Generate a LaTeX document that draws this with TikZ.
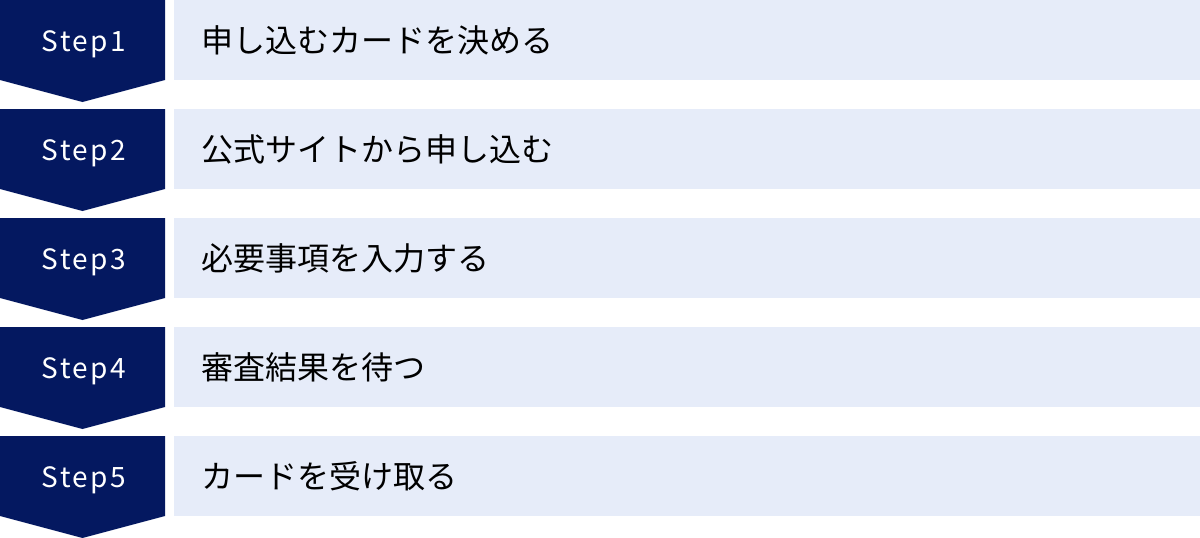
\documentclass[tikz,border=0pt]{standalone}
\usepackage{fontspec}
\newfontfamily\cjk{Noto Sans CJK JP}
\newfontfamily\steplat[LetterSpace=9]{Noto Sans CJK JP}
\usetikzlibrary{positioning}
\definecolor{stepnavy}{RGB}{4,24,96}
\definecolor{steplight}{RGB}{230,236,249}

\begin{document}
\begin{tikzpicture}[x=1pt,y=-1pt,
	steptag/.style={text=white,font=\steplat\fontsize{28}{32}\selectfont,anchor=base,inner sep=0pt},
	steptext/.style={text=black,font=\cjk\fontsize{32}{36}\selectfont,anchor=base west,inner sep=0pt}]
		%%%%% START %%%%%
		\useasboundingbox (0,0) rectangle (1200,538);
		\foreach \i/\txt in {1/申し込むカードを決める,2/公式サイトから申し込む,3/必要事項を入力する,4/審査結果を待つ,5/カードを受け取る}{
			\pgfmathsetmacro{\top}{(\i-1)*109}
			\fill[stepnavy] (0,\top) -- (165,\top) -- (165,\top+80) -- (82.5,\top+102) -- (0,\top+80) -- cycle;
			\fill[steplight] (174,\top) rectangle (1200,\top+80);
			\node[steptag] (tag\i) at (84,\top+51) {Step\i};
			\node[steptext] (text\i) at (201,\top+52) {\txt};
		}
		%%%%% END %%%%%
	\end{tikzpicture}
\end{document}
